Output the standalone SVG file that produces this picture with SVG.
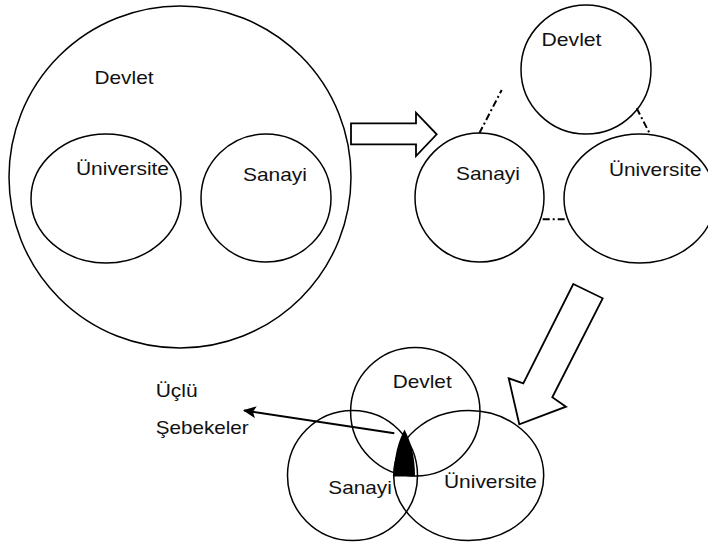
<svg xmlns="http://www.w3.org/2000/svg" width="708" height="544" viewBox="0 0 708 544">
  <style>
    .node { fill: none; stroke: #000; stroke-width: 1.5; }
    .label { font-family: "Liberation Sans", Arial, sans-serif; font-size: 18.5px; fill: #111; }
    .block { fill: #fff; stroke: #000; stroke-width: 1.8; stroke-linejoin: miter; }
    .link { fill: none; stroke: #000; stroke-width: 2; stroke-dasharray: 7 3 2 3; }
    .pointer { fill: none; stroke: #000; stroke-width: 2; }
  </style>
  <defs>
    <marker id="head" viewBox="0 0 13 12" refX="12" refY="6" markerWidth="13" markerHeight="12" markerUnits="userSpaceOnUse" orient="auto">
      <path d="M0,0 L13,6 L0,12 L3,6 Z" fill="#000"/>
    </marker>
  </defs>
  <rect width="708" height="544" fill="#fff"/>

  <!-- Stage 1: state containing university and industry -->
  <g id="s1-devlet">
    <ellipse class="node" cx="180" cy="177" rx="171" ry="171"/>
    <text class="label" x="94.5" y="83.5" textLength="59" lengthAdjust="spacingAndGlyphs">Devlet</text>
  </g>
  <g id="s1-universite">
    <ellipse class="node" cx="106" cy="198.5" rx="75" ry="64.5"/>
    <text class="label" x="76" y="175" textLength="93" lengthAdjust="spacingAndGlyphs">Üniversite</text>
  </g>
  <g id="s1-sanayi">
    <ellipse class="node" cx="266" cy="198" rx="65" ry="64"/>
    <text class="label" x="243" y="181" textLength="64" lengthAdjust="spacingAndGlyphs">Sanayi</text>
  </g>

  <!-- Stage 2: separate spheres -->
  <g id="s2-devlet">
    <ellipse class="node" cx="586" cy="69.5" rx="65" ry="64.5"/>
    <text class="label" x="541.5" y="46" textLength="60" lengthAdjust="spacingAndGlyphs">Devlet</text>
  </g>
  <g id="s2-sanayi">
    <ellipse class="node" cx="479.5" cy="197.5" rx="64.5" ry="64.5"/>
    <text class="label" x="456" y="180" textLength="64" lengthAdjust="spacingAndGlyphs">Sanayi</text>
  </g>
  <g id="s2-universite">
    <ellipse class="node" cx="639.5" cy="198.5" rx="75.5" ry="64.5"/>
    <text class="label" x="609" y="176" textLength="92.5" lengthAdjust="spacingAndGlyphs">Üniversite</text>
  </g>

  <!-- Stage 3: overlapping triple helix -->
  <g id="s3-devlet">
    <ellipse class="node" cx="415.3" cy="411.7" rx="64.7" ry="64.3"/>
    <text class="label" x="392.7" y="388" textLength="59" lengthAdjust="spacingAndGlyphs">Devlet</text>
  </g>
  <g id="s3-sanayi">
    <ellipse class="node" cx="352.5" cy="475.5" rx="65" ry="65"/>
    <text class="label" x="328.3" y="494" textLength="63.5" lengthAdjust="spacingAndGlyphs">Sanayi</text>
  </g>
  <g id="s3-universite">
    <ellipse class="node" cx="468.7" cy="475.5" rx="75" ry="65"/>
    <text class="label" x="444" y="488.3" textLength="93" lengthAdjust="spacingAndGlyphs">Üniversite</text>
  </g>
  <g id="s3-overlap">
    <path d="M404.5,429.5 C398.5,441 394,455 394,476.5 L415,476.5 C415,455 410.5,441 404.5,429.5 Z" fill="#000"/>
  </g>
  <g id="s3-callout">
    <text class="label" x="155.7" y="397.3" textLength="42" lengthAdjust="spacingAndGlyphs">Üçlü</text>
    <text class="label" x="155.7" y="434" textLength="93" lengthAdjust="spacingAndGlyphs">Şebekeler</text>
  </g>

  <!-- Connectors -->
  <g id="connectors">
    <polygon class="block" points="351,123.3 416,123.3 416,112.7 436.7,134.3 416,156 416,144.3 351,144.3"/>
    <polygon class="block" points="573.3,284 602.7,298.3 552.3,397.3 566,406.7 519.3,424.3 508.7,378.3 523.3,383.3"/>
    <line class="link" x1="479.3" y1="133.3" x2="501.7" y2="90"/>
    <line class="link" x1="636.7" y1="108.3" x2="649.3" y2="132.7"/>
    <line class="link" x1="542.7" y1="219.3" x2="565.7" y2="219.3"/>
    <line class="pointer" x1="394.3" y1="433.3" x2="244" y2="410.5" marker-end="url(#head)"/>
  </g>
</svg>
